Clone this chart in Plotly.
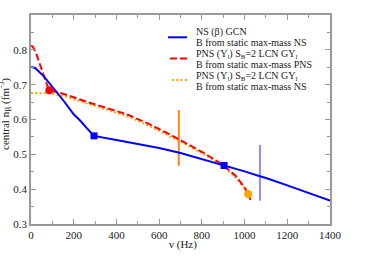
import plotly.graph_objects as go

# ---- data ----
ns_nu = [0, 20, 60, 100, 150, 200, 230, 260, 295, 400, 500, 600, 700, 800, 904, 1000, 1072, 1100, 1200, 1300, 1400]
ns_nb = [0.751, 0.748, 0.724, 0.694, 0.656, 0.615, 0.597, 0.576, 0.553, 0.541, 0.530, 0.518, 0.504, 0.487, 0.468, 0.451, 0.437, 0.432, 0.411, 0.390, 0.367]

pns_nu = [0, 10, 27, 45, 58, 73, 86, 100, 150, 200, 260, 350, 456, 549, 635, 729, 815, 900, 960, 1000, 1017, 1028]
pns_nb = [0.812, 0.808, 0.785, 0.752, 0.731, 0.703, 0.684, 0.682, 0.674, 0.664, 0.651, 0.634, 0.613, 0.588, 0.562, 0.531, 0.502, 0.469, 0.437, 0.405, 0.386, 0.369]

pnsns_nu = [0, 40, 86, 150, 200, 260, 350, 456, 549, 635, 729, 815, 900, 960, 1000, 1017]
pnsns_nb = [0.676, 0.676, 0.675, 0.668, 0.658, 0.646, 0.628, 0.608, 0.583, 0.557, 0.527, 0.498, 0.466, 0.432, 0.403, 0.386]

ns_sq_nu = [295, 904]
ns_sq_nb = [0.553, 0.468]
pns_dot_nu = [86]
pns_dot_nb = [0.684]
pnsns_dot_nu = [1017]
pnsns_dot_nb = [0.386]

vline_orange_nu = [692, 692]
vline_orange_nb = [0.467, 0.627]
vline_blue_nu = [1072, 1072]
vline_blue_nb = [0.367, 0.527]

x_ticks = [0, 200, 400, 600, 800, 1000, 1200, 1400]
y_ticks = [0.3, 0.4, 0.5, 0.6, 0.7, 0.8]

legend_lines = [
    "NS (β) GCN",
    "B from static max-mass NS",
    "PNS (Y<sub>l</sub>) S<sub>B</sub>=2 LCN GY<sub>l</sub>",
    "B from static max-mass PNS",
    "PNS (Y<sub>l</sub>) S<sub>B</sub>=2 LCN GY<sub>l</sub>",
    "B from static max-mass NS",
]

BLUE = "#0000ff"
RED = "#ff0000"
ORANGE = "#ffa500"
FONT = "Liberation Serif, Times New Roman, serif"

W, H = 373, 270
L, R, T, B = 31, 43, 15, 46

def px(xp):
    return (xp - L) / (W - L - R)

def py(yp):
    return (H - B - yp) / (H - T - B)

fig = go.Figure()

fig.add_trace(go.Scatter(x=vline_orange_nu, y=vline_orange_nb, mode="lines",
                         line=dict(color="#ff7f1e", width=2), showlegend=False))
fig.add_trace(go.Scatter(x=vline_blue_nu, y=vline_blue_nb, mode="lines",
                         line=dict(color="#8c8cff", width=2), showlegend=False))

fig.add_trace(go.Scatter(x=pnsns_nu, y=pnsns_nb, mode="lines",
                         line=dict(color=ORANGE, width=2, dash="2px,2.3px"), showlegend=False))
fig.add_trace(go.Scatter(x=pns_nu, y=pns_nb, mode="lines",
                         line=dict(color=RED, width=2, dash="7px,3px"), showlegend=False))
fig.add_trace(go.Scatter(x=ns_nu, y=ns_nb, mode="lines",
                         line=dict(color=BLUE, width=2), showlegend=False))

fig.add_trace(go.Scatter(x=ns_sq_nu, y=ns_sq_nb, mode="markers",
                         marker=dict(symbol="square", size=7, color=BLUE), showlegend=False))
fig.add_trace(go.Scatter(x=pns_dot_nu, y=pns_dot_nb, mode="markers",
                         marker=dict(symbol="circle", size=8, color=RED), showlegend=False))
fig.add_trace(go.Scatter(x=pnsns_dot_nu, y=pnsns_dot_nb, mode="markers",
                         marker=dict(symbol="circle", size=8, color=ORANGE), showlegend=False))

axis_common = dict(
    showline=True, linecolor="#999999", linewidth=1.5, mirror="ticks",
    ticks="inside", ticklen=5, tickwidth=1, tickcolor="#999999",
    showgrid=False, zeroline=False,
    tickfont=dict(family=FONT, size=11, color="#222222"),
)

fig.update_xaxes(range=[0, 1400], tickvals=x_ticks,
                 minor=dict(dtick=100, ticks="inside", ticklen=3, tickcolor="#999999"),
                 **axis_common)
fig.update_yaxes(range=[0.3, 0.9], tickvals=y_ticks, ticktext=[f"{v:.1f}" for v in y_ticks],
                 minor=dict(dtick=0.05, ticks="inside", ticklen=3, tickcolor="#999999"),
                 **axis_common)

annotations = []
# axis titles
annotations.append(dict(text="ν (Hz)", x=px(183), y=py(244), xref="paper", yref="paper",
                        showarrow=False, xanchor="center", yanchor="middle",
                        font=dict(family=FONT, size=11, color="#222222")))
annotations.append(dict(text="central n<sub>B</sub> (fm<sup>-3</sup>)", x=px(5), y=py(114),
                        xref="paper", yref="paper", showarrow=False, textangle=-90,
                        xanchor="center", yanchor="middle",
                        font=dict(family=FONT, size=11, color="#222222")))
# legend text (anchored by the top of each line so subscripts don't shift rows)
leg_y = [31.5, 42.2, 53.0, 64.0, 75.0, 85.8]
for txt, yy in zip(legend_lines, leg_y):
    annotations.append(dict(text=txt, x=px(194), y=py(yy - 7), xref="paper", yref="paper",
                            showarrow=False, xanchor="left", yanchor="top",
                            font=dict(family=FONT, size=10, color="#222222")))

shapes = [
    dict(type="line", xref="paper", yref="paper", x0=px(168), x1=px(187), y0=py(37.3), y1=py(37.3),
         line=dict(color=BLUE, width=2)),
    dict(type="line", xref="paper", yref="paper", x0=px(170), x1=px(187), y0=py(58.5), y1=py(58.5),
         line=dict(color=RED, width=2, dash="7px,3px")),
    dict(type="line", xref="paper", yref="paper", x0=px(172), x1=px(187), y0=py(80), y1=py(80),
         line=dict(color=ORANGE, width=2, dash="2px,2.3px")),
]

fig.update_layout(
    width=W, height=H,
    margin=dict(l=L, r=R, t=T, b=B),
    paper_bgcolor="white", plot_bgcolor="white",
    showlegend=False,
    annotations=annotations,
    shapes=shapes,
)

fig.write_html("out.html", config={"displayModeBar": False},
               post_script="document.body.style.margin='0';document.body.style.padding='0';")
